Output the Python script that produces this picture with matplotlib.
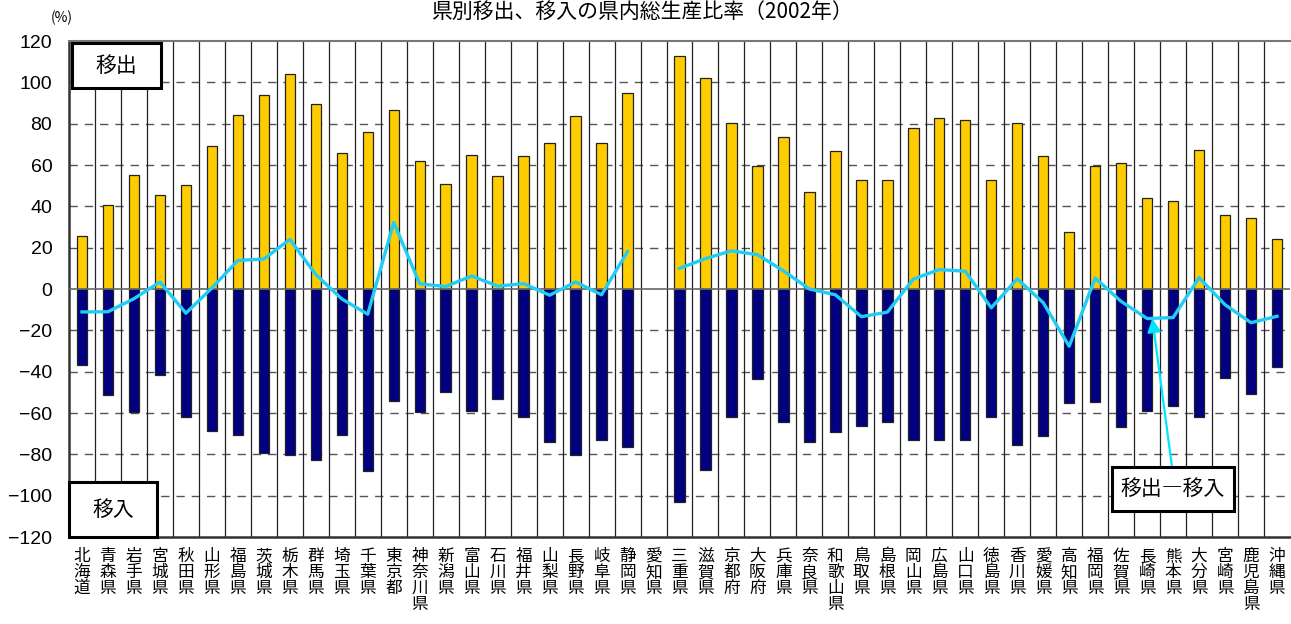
import numpy as np
import matplotlib
matplotlib.use('Agg')
import matplotlib.pyplot as plt
from matplotlib.patches import Rectangle

plt.rcParams['font.family'] = ['Noto Sans CJK JP', 'DejaVu Sans']

# Data (percent of prefectural GDP, 2002)
prefs = ['北海道', '青森県', '岩手県', '宮城県', '秋田県', '山形県', '福島県', '茨城県', '栃木県', '群馬県',
         '埼玉県', '千葉県', '東京都', '神奈川県', '新潟県', '富山県', '石川県', '福井県', '山梨県', '長野県',
         '岐阜県', '静岡県', '愛知県', '三重県', '滋賀県', '京都府', '大阪府', '兵庫県', '奈良県', '和歌山県',
         '鳥取県', '島根県', '岡山県', '広島県', '山口県', '徳島県', '香川県', '愛媛県', '高知県', '福岡県',
         '佐賀県', '長崎県', '熊本県', '大分県', '宮崎県', '鹿児島県', '沖縄県']
nan = np.nan
outflow = [25.7, 40.6, 55.1, 45.4, 50.2, 69.2, 84.3, 93.9, 104.0, 89.7,
           65.8, 76.2, 86.4, 61.8, 50.9, 65.0, 54.9, 64.4, 70.6, 83.6,
           70.6, 94.6, nan, 112.9, 101.9, 80.3, 59.7, 73.4, 46.9, 66.6,
           52.8, 52.8, 78.0, 82.8, 81.6, 52.8, 80.3, 64.4, 27.6, 59.7,
           61.0, 44.0, 42.7, 67.4, 35.9, 34.5, 24.2]
inflow = [-36.9, -51.4, -59.7, -41.8, -61.7, -68.6, -70.7, -79.5, -80.3, -82.7,
          -70.7, -88.3, -54.1, -59.4, -49.8, -58.9, -53.3, -61.7, -73.9, -80.2,
          -73.2, -76.6, nan, -103.1, -87.5, -61.7, -43.4, -64.2, -73.9, -69.1,
          -66.5, -64.2, -73.2, -73.2, -73.2, -61.7, -75.3, -71.3, -55.4, -54.6,
          -67.0, -58.8, -56.8, -61.7, -43.2, -50.6, -37.8]
net = [-11.1, -11.0, -4.7, 3.4, -11.7, 0.5, 13.8, 14.5, 24.0, 7.0,
       -4.8, -12.2, 32.2, 2.5, 1.2, 6.3, 1.4, 2.6, -3.0, 3.4,
       -2.8, 18.1, nan, 10.0, 14.7, 18.5, 16.6, 8.8, 0.0, -2.8,
       -13.4, -11.2, 4.8, 9.4, 8.6, -9.1, 4.9, -6.6, -27.7, 5.3,
       -6.0, -14.3, -13.8, 5.5, -7.6, -16.3, -13.2]

x = np.arange(len(prefs))
W, H = 1291, 624

fig = plt.figure(figsize=(W / 100, H / 100), dpi=100)
ax = fig.add_axes([69 / W, 87 / H, 1221 / W, 496 / H])

# grid
for yv in range(-100, 120, 20):
    if yv != 0:
        ax.axhline(yv, color='#555555', lw=1.0, ls=(0, (6, 5)), zorder=1)
for i in range(len(prefs) - 1):
    ax.axvline(i + 0.5, color='#222222', lw=0.9, zorder=1)
ax.axhline(0, color='#666666', lw=1.2, zorder=3)

ax.bar(x, outflow, width=0.4, color='#FFCC00', edgecolor='#222222', lw=0.9, zorder=2)
ax.bar(x, inflow, width=0.4, color='#000080', edgecolor='#222222', lw=0.9, zorder=2)
ax.plot(x, net, color='#22CCF5', lw=2.4, zorder=4)

ax.set_xlim(-0.5, len(prefs) - 0.5)
ax.set_ylim(-120, 120)
ax.set_yticks(range(-120, 121, 20))
ax.set_yticklabels([str(v).replace('-', '−') for v in range(-120, 121, 20)],
                   fontsize=14, family='Liberation Sans')
ax.tick_params(axis='y', length=0, pad=12)
ax.set_xticks(x)
ax.set_xticklabels(['\n'.join(p) for p in prefs], fontsize=12, linespacing=0.92, va='top')
ax.tick_params(axis='x', length=0, pad=8)

ax.spines['left'].set_linewidth(1.8)
ax.spines['left'].set_color('#333333')
ax.spines['bottom'].set_linewidth(1.8)
ax.spines['bottom'].set_color('#333333')
ax.spines['top'].set_color('#777777')
ax.spines['top'].set_linewidth(1.5)
ax.spines['right'].set_visible(False)


# label boxes in pixel coordinates (left, top, right, bottom)
def label_box(x0, y0, x1, y1, text):
    fig.add_artist(Rectangle((x0 / W, 1 - y1 / H), (x1 - x0) / W, (y1 - y0) / H,
                             transform=fig.transFigure, fc='white', ec='black', lw=2.2, zorder=6))
    fig.text((x0 + x1) / 2 / W, 1 - (y0 + y1) / 2 / H, text, fontsize=15,
             ha='center', va='center', zorder=7)


label_box(72, 43, 161, 88, '移出')
label_box(69, 482, 157, 537, '移入')
ax.annotate('', xy=(41.2, -14.3), xytext=(1172 / W, 1 - 467 / H),
            textcoords='figure fraction',
            arrowprops=dict(arrowstyle='-|>', color='#00E5FF', lw=1.6, mutation_scale=20,
                            shrinkA=0, shrinkB=0),
            zorder=5)
label_box(1112, 467, 1234, 511, '移出―移入')

fig.text(62 / W, 1 - 18 / H, '(%)', fontsize=10, ha='center', va='center')
fig.text(643 / W, 1 - 1 / H, '県別移出、移入の県内総生産比率（2002年）', fontsize=15,
         ha='center', va='top')

fig.savefig('out.png', dpi=100)
